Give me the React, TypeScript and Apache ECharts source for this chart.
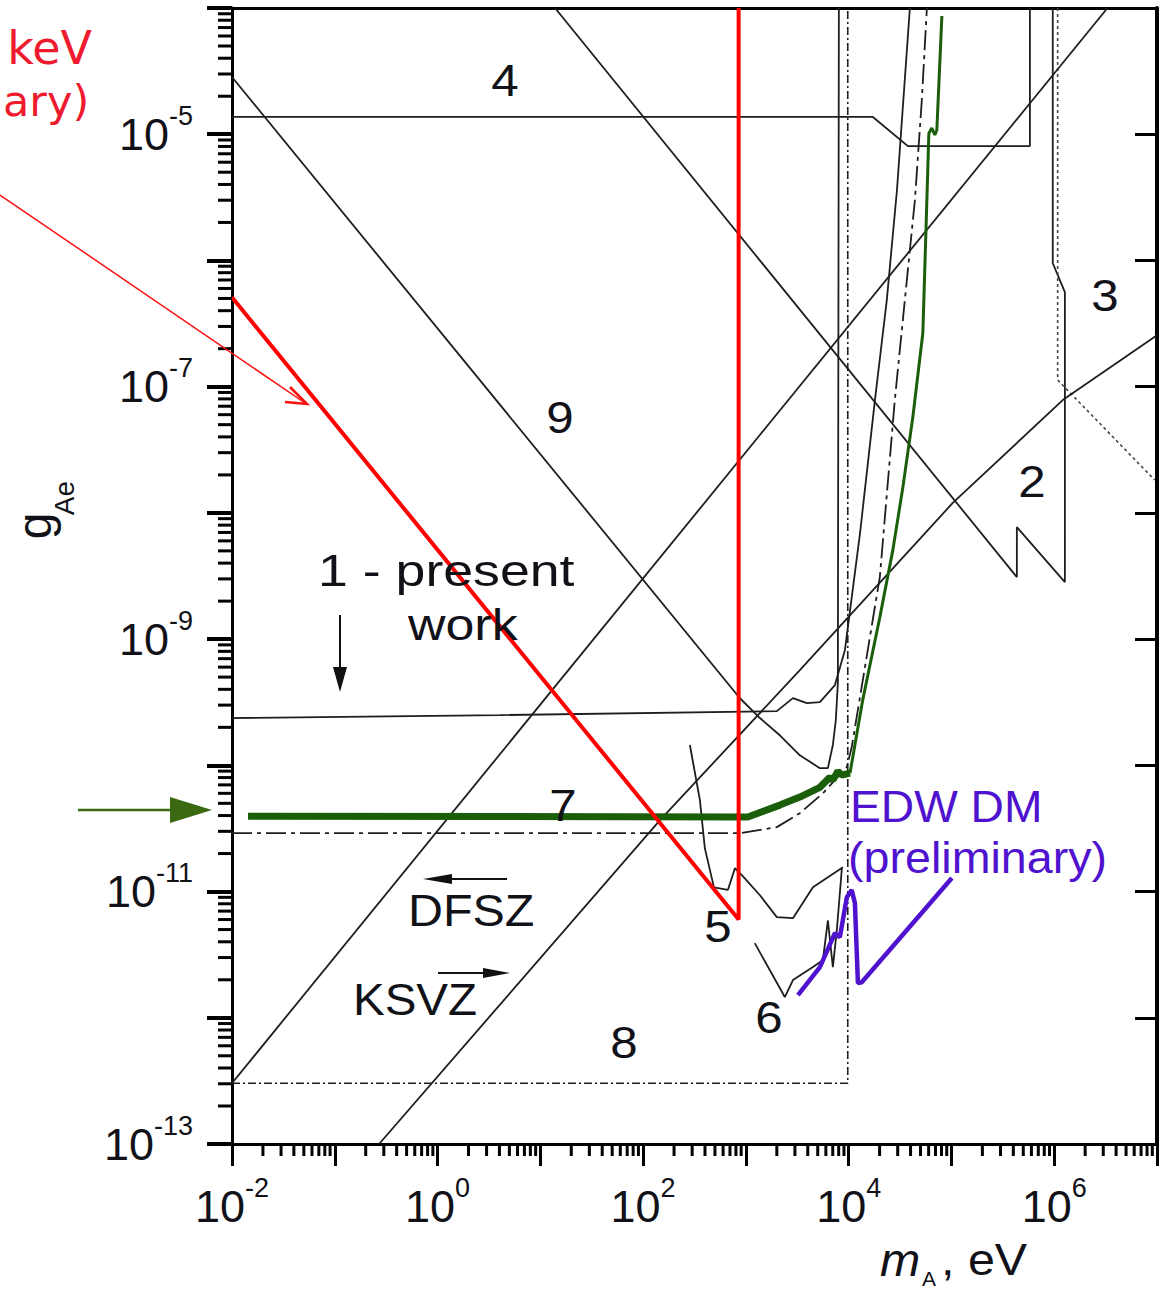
import React, { useEffect, useRef } from "react";
import * as echarts from "echarts";

// Axis ranges (m_A in eV, g_Ae dimensionless)
const X_MIN = 1e-2;
const X_MAX = 1e7;
const Y_MIN = 1e-13;
const Y_MAX = 1e-4;

// Exponents that carry a tick label
const xLabelExponents = [-2, 0, 2, 4, 6];
const yLabelExponents = [-5, -7, -9, -11, -13];

// Decades used for minor ticks
const xDecades = [-2, -1, 0, 1, 2, 3, 4, 5, 6];
const yDecades = [-13, -12, -11, -10, -9, -8, -7, -6, -5];
const minorMultipliers = [2, 3, 4, 5, 6, 7, 8, 9];

// ---- Curves: [m_A (eV), g_Ae] ----
const redLimit = [[0.01, 5.1e-7], [850, 6.0e-12], [850, 1e-4]];

const greenThick = [
  [0.0143, 3.95e-11], [1045, 3.9e-11], [2140, 4.84e-11], [3350, 5.6e-11],
  [5250, 6.7e-11], [6560, 8.05e-11], [7020, 7.63e-11], [7850, 9.0e-11],
  [8590, 8.36e-11], [10300, 8.67e-11],
];
const greenThin = [
  [10300, 8.67e-11], [13700, 3.29e-10], [20100, 1.49e-9], [26900, 5.07e-9],
  [33700, 1.6e-8], [42100, 5.74e-8], [52700, 2.66e-7], [56400, 1.65e-6],
  [60300, 1.02e-5], [64400, 1.12e-5], [68900, 9.86e-6], [72100, 1.08e-5],
  [80700, 8.65e-5],
];

const edwDM = [
  [3210, 1.51e-12], [5250, 2.52e-12], [7350, 4.68e-12], [8210, 4.35e-12],
  [9600, 9.0e-12], [10700, 1.03e-11], [11500, 8.1e-12], [12300, 1.88e-12],
  [13400, 1.91e-12], [101000, 1.28e-11],
];

const line1Present = [
  [0.01, 2.37e-10], [4.05, 2.5e-10], [2000, 2.69e-10], [2870, 3.41e-10],
  [3920, 3.11e-10], [5250, 3.17e-10], [7350, 4.32e-10], [9200, 8.2e-10],
  [12900, 6.9e-9], [18000, 7.8e-8], [23500, 4.85e-7], [29500, 3.6e-6],
  [39400, 1e-4],
];

const line2 = [
  [13.9, 1e-4], [4.33e5, 3.1e-9], [4.33e5, 7.7e-9], [1.27e6, 2.83e-9],
  [1.27e6, 5.62e-7], [9.68e5, 9.5e-7], [9.68e5, 1e-4],
];

const line3Dotted = [[1.08e6, 1e-4], [1.08e6, 1.13e-7], [9.5e6, 1.82e-8]];

const line4 = [
  [0.01, 1.37e-5], [1.72e4, 1.37e-5], [3.77e4, 8.05e-6], [5.8e5, 8.05e-6],
  [5.8e5, 1e-4],
];

const line7Dashed = [
  [0.01, 2.9e-11], [875, 2.9e-11], [2000, 3.24e-11], [3350, 4.18e-11],
  [5610, 6.0e-11], [9600, 9.7e-11], [10700, 1.39e-10], [20100, 3.1e-9],
  [28100, 7.8e-8], [35200, 4.85e-7], [44100, 3.0e-6], [51500, 1.87e-5],
  [57700, 1e-4],
];

const box8 = [[0.01, 3.03e-13], [9800, 3.03e-13], [9800, 1e-4]];

const line9 = [
  [0.01, 2.84e-5], [875, 3.4e-10], [1370, 2.37e-10], [2140, 1.73e-10],
  [3350, 1.2e-10], [5250, 9.5e-11], [6280, 9.5e-11], [7020, 1.45e-10],
  [7500, 2.28e-10], [7850, 4.5e-10], [8030, 1e-4],
];

const curve5 = [
  [285, 1.45e-10], [357, 5.3e-11], [399, 2.2e-11], [489, 1.08e-11],
  [668, 1.03e-11], [782, 1.53e-11], [914, 1.35e-11], [1370, 9.35e-12],
  [2000, 6.27e-12], [2870, 6.15e-12], [4490, 1.08e-11], [8790, 1.56e-11],
];

const curve6 = [
  [1220, 3.9e-12], [2390, 1.46e-12], [2870, 1.99e-12], [4490, 2.52e-12],
  [5610, 2.86e-12], [6280, 5.9e-12], [7020, 2.52e-12], [7670, 4.94e-12],
  [8590, 1.53e-11],
];

const dfszLine = [[0.01, 3.03e-13], [3.3e6, 1e-4]];
const ksvzLine = [
  [0.27, 1e-13], [146, 3.68e-11], [3350, 5.68e-10], [1.03e5, 1.2e-8],
  [1.21e6, 7.83e-8], [1e7, 2.56e-7],
];

const BLACK = "#1e1e1e";
const TXT = "#111118";
const RED = "#ff0000";
const GREEN = "#1b5e0a";
const PURPLE = "#4f12cf";
const SANS = "Liberation Sans, Arial, sans-serif";

function lineSeries(name: string, data: number[][], color: string, width: number, type: any = "solid", z = 2) {
  return {
    name,
    type: "line",
    data,
    showSymbol: false,
    symbol: "none",
    silent: true,
    z,
    lineStyle: { color, width, type },
  };
}

function tickSeries(name: string, values: number[][], axis: "x" | "y", len: number) {
  return {
    name,
    type: "custom",
    silent: true,
    clip: false,
    z: 6,
    data: values,
    encode: { x: 0, y: 1 },
    renderItem: (_params: any, api: any) => {
      const p = api.coord([api.value(0), api.value(1)]);
      const shape =
        axis === "x"
          ? { x1: p[0], y1: p[1], x2: p[0], y2: p[1] + len }
          : { x1: p[0] - len, y1: p[1], x2: p[0], y2: p[1] };
      return { type: "line", shape, style: { stroke: "#000", lineWidth: 3 } };
    },
  };
}

function label(text: string, x: number, y: number, opts: any = {}) {
  return {
    type: "text",
    x,
    y,
    z: 50,
    scaleX: opts.scaleX ?? 1.12,
    rotation: opts.rotation ?? 0,
    style: {
      text,
      fill: opts.color ?? TXT,
      fontSize: opts.fontSize ?? 44,
      fontFamily: opts.fontFamily ?? SANS,
      fontStyle: opts.fontStyle ?? "normal",
      align: opts.align ?? "center",
      verticalAlign: "middle",
    },
  };
}

export default function App() {
  const ref = useRef<HTMLDivElement>(null);

  useEffect(() => {
    if (!ref.current) return;
    const chart = echarts.init(ref.current, null, { renderer: "svg" });

    const xMinor: number[][] = [];
    xDecades.forEach((d) => minorMultipliers.forEach((k) => xMinor.push([k * Math.pow(10, d), Y_MIN])));
    const yMinor: number[][] = [];
    yDecades.forEach((d) => minorMultipliers.forEach((k) => yMinor.push([X_MIN, k * Math.pow(10, d)])));

    const richLabel = {
      b: { fontSize: 45, fontFamily: SANS, color: TXT, lineHeight: 64 },
      s: { fontSize: 27, fontFamily: SANS, color: TXT, verticalAlign: "top", lineHeight: 27 },
    };

    const option: any = {
      animation: false,
      backgroundColor: "#ffffff",
      grid: { left: 232, right: 11, top: 8, bottom: 149, containLabel: false },
      xAxis: [
        {
          type: "log",
          logBase: 10,
          min: X_MIN,
          max: X_MAX,
          splitNumber: 9,
          position: "bottom",
          axisLine: { show: true, lineStyle: { color: "#000", width: 3 } },
          axisTick: { show: true, inside: false, length: 22, lineStyle: { color: "#000", width: 3 } },
          splitLine: { show: false },
          axisLabel: {
            margin: 30,
            showMinLabel: true,
            showMaxLabel: true,
            formatter: (v: number) => {
              const e = Math.round(Math.log10(v));
              return xLabelExponents.includes(e) ? `{b|10}{s|${e}}` : "";
            },
            rich: richLabel,
          },
        },
        {
          type: "log",
          logBase: 10,
          min: X_MIN,
          max: X_MAX,
          splitNumber: 9,
          position: "top",
          axisLine: { show: true, lineStyle: { color: "#000", width: 3 } },
          axisTick: { show: false },
          axisLabel: { show: false },
          splitLine: { show: false },
        },
      ],
      yAxis: [
        {
          type: "log",
          logBase: 10,
          min: Y_MIN,
          max: Y_MAX,
          splitNumber: 9,
          position: "left",
          axisLine: { show: true, lineStyle: { color: "#000", width: 3 } },
          axisTick: { show: true, inside: false, length: 25, lineStyle: { color: "#000", width: 4 } },
          splitLine: { show: false },
          axisLabel: {
            margin: 39,
            showMinLabel: true,
            showMaxLabel: true,
            formatter: (v: number) => {
              const e = Math.round(Math.log10(v));
              return yLabelExponents.includes(e) ? `{b|10}{s|${e}}` : "";
            },
            rich: richLabel,
          },
        },
        {
          type: "log",
          logBase: 10,
          min: Y_MIN,
          max: Y_MAX,
          splitNumber: 9,
          position: "right",
          axisLine: { show: true, lineStyle: { color: "#000", width: 4 } },
          axisTick: { show: true, inside: true, length: 22, lineStyle: { color: "#000", width: 3 } },
          axisLabel: { show: false },
          splitLine: { show: false },
        },
      ],
      series: [
        tickSeries("xMinorTicks", xMinor, "x", 12),
        tickSeries("yMinorTicks", yMinor, "y", 14),
        lineSeries("9", line9, BLACK, 1.8),
        lineSeries("2", line2, BLACK, 1.8),
        lineSeries("3", line3Dotted, "#444", 1.6, [3, 3]),
        lineSeries("4", line4, BLACK, 1.8),
        lineSeries("DFSZ", dfszLine, BLACK, 1.8),
        lineSeries("KSVZ", ksvzLine, BLACK, 1.8),
        lineSeries("1 - present work", line1Present, BLACK, 1.8),
        lineSeries("7", line7Dashed, BLACK, 1.8, [20, 5, 4, 5]),
        lineSeries("8", box8, BLACK, 1.6, [8, 3, 2, 3]),
        lineSeries("5", curve5, BLACK, 1.8),
        lineSeries("6", curve6, BLACK, 1.8),
        lineSeries("green limit", greenThick, GREEN, 7, "solid", 4),
        lineSeries("green limit rise", greenThin, GREEN, 3, "solid", 4),
        lineSeries("EDW DM (preliminary)", edwDM, PURPLE, 4.5, "solid", 4),
        lineSeries("red limit", redLimit, RED, 4, "solid", 5),
      ],
      graphic: [
        // red annotation (left part of the original text lies outside the figure) and arrow
        label("keV", 92, 48, { align: "right", color: "#ee1b2e", fontFamily: "DejaVu Sans", fontSize: 46, scaleX: 1 }),
        label("ary)", 3, 101, { align: "left", color: "#ee1b2e", fontFamily: "DejaVu Sans", fontSize: 43, scaleX: 1 }),
        { type: "line", z: 40, shape: { x1: 0, y1: 195, x2: 305, y2: 403 }, style: { stroke: "#ff1010", lineWidth: 1.5 } },
        { type: "polyline", z: 40, shape: { points: [[290, 387], [307, 404], [285, 402]] }, style: { stroke: "#ff1010", lineWidth: 2.5, fill: null } },
        // green arrow
        { type: "line", z: 40, shape: { x1: 78, y1: 810, x2: 174, y2: 810 }, style: { stroke: "#3b6912", lineWidth: 2.5 } },
        { type: "polygon", z: 40, shape: { points: [[170, 797], [212, 810], [170, 823]] }, style: { fill: "#3b6912" } },
        // present-work arrow
        { type: "line", z: 40, shape: { x1: 340, y1: 615, x2: 340, y2: 670 }, style: { stroke: "#111", lineWidth: 2 } },
        { type: "polygon", z: 40, shape: { points: [[333, 667], [347, 667], [340, 692]] }, style: { fill: "#111" } },
        // DFSZ arrow
        { type: "line", z: 40, shape: { x1: 440, y1: 879, x2: 507, y2: 879 }, style: { stroke: "#111", lineWidth: 2 } },
        { type: "polygon", z: 40, shape: { points: [[423, 879], [452, 874], [452, 884]] }, style: { fill: "#111" } },
        // KSVZ arrow
        { type: "line", z: 40, shape: { x1: 438, y1: 973, x2: 490, y2: 973 }, style: { stroke: "#111", lineWidth: 2 } },
        { type: "polygon", z: 40, shape: { points: [[510, 973], [483, 968], [483, 978]] }, style: { fill: "#111" } },
        // region labels
        label("4", 505, 81),
        label("9", 560, 418),
        label("3", 1105, 296),
        label("2", 1032, 482),
        label("1 - present", 318, 571, { align: "left", scaleX: 1.22 }),
        label("work", 408, 624, { align: "left", scaleX: 1.18 }),
        label("7", 563, 806),
        label("DFSZ", 408, 911, { align: "left", scaleX: 1.1 }),
        label("5", 718, 927),
        label("KSVZ", 353, 1000, { align: "left", scaleX: 1.08 }),
        label("8", 624, 1043),
        label("6", 769, 1018),
        // EDW DM legend text
        label("EDW DM", 850, 807, { align: "left", color: PURPLE, scaleX: 1.05 }),
        label("(preliminary)", 848, 858, { align: "left", color: PURPLE, scaleX: 1.06 }),
        // axis titles
        label("g", 34, 526, { fontSize: 48, rotation: Math.PI / 2, scaleX: 1 }),
        label("Ae", 64, 498, { fontSize: 28, rotation: Math.PI / 2, scaleX: 1 }),
        label("m", 880, 1260, { align: "left", fontStyle: "italic", fontSize: 46, scaleX: 1.05 }),
        label("A", 922, 1279, { align: "left", fontSize: 20, scaleX: 1.05 }),
        label(", eV", 941, 1260, { align: "left", fontSize: 44, scaleX: 1.1 }),
      ],
    };

    chart.setOption(option);
    return () => chart.dispose();
  }, []);

  return (
    <div
      ref={ref}
      style={{ position: "absolute", left: 0, top: 0, width: 1168, height: 1293, background: "#fff" }}
    />
  );
}
